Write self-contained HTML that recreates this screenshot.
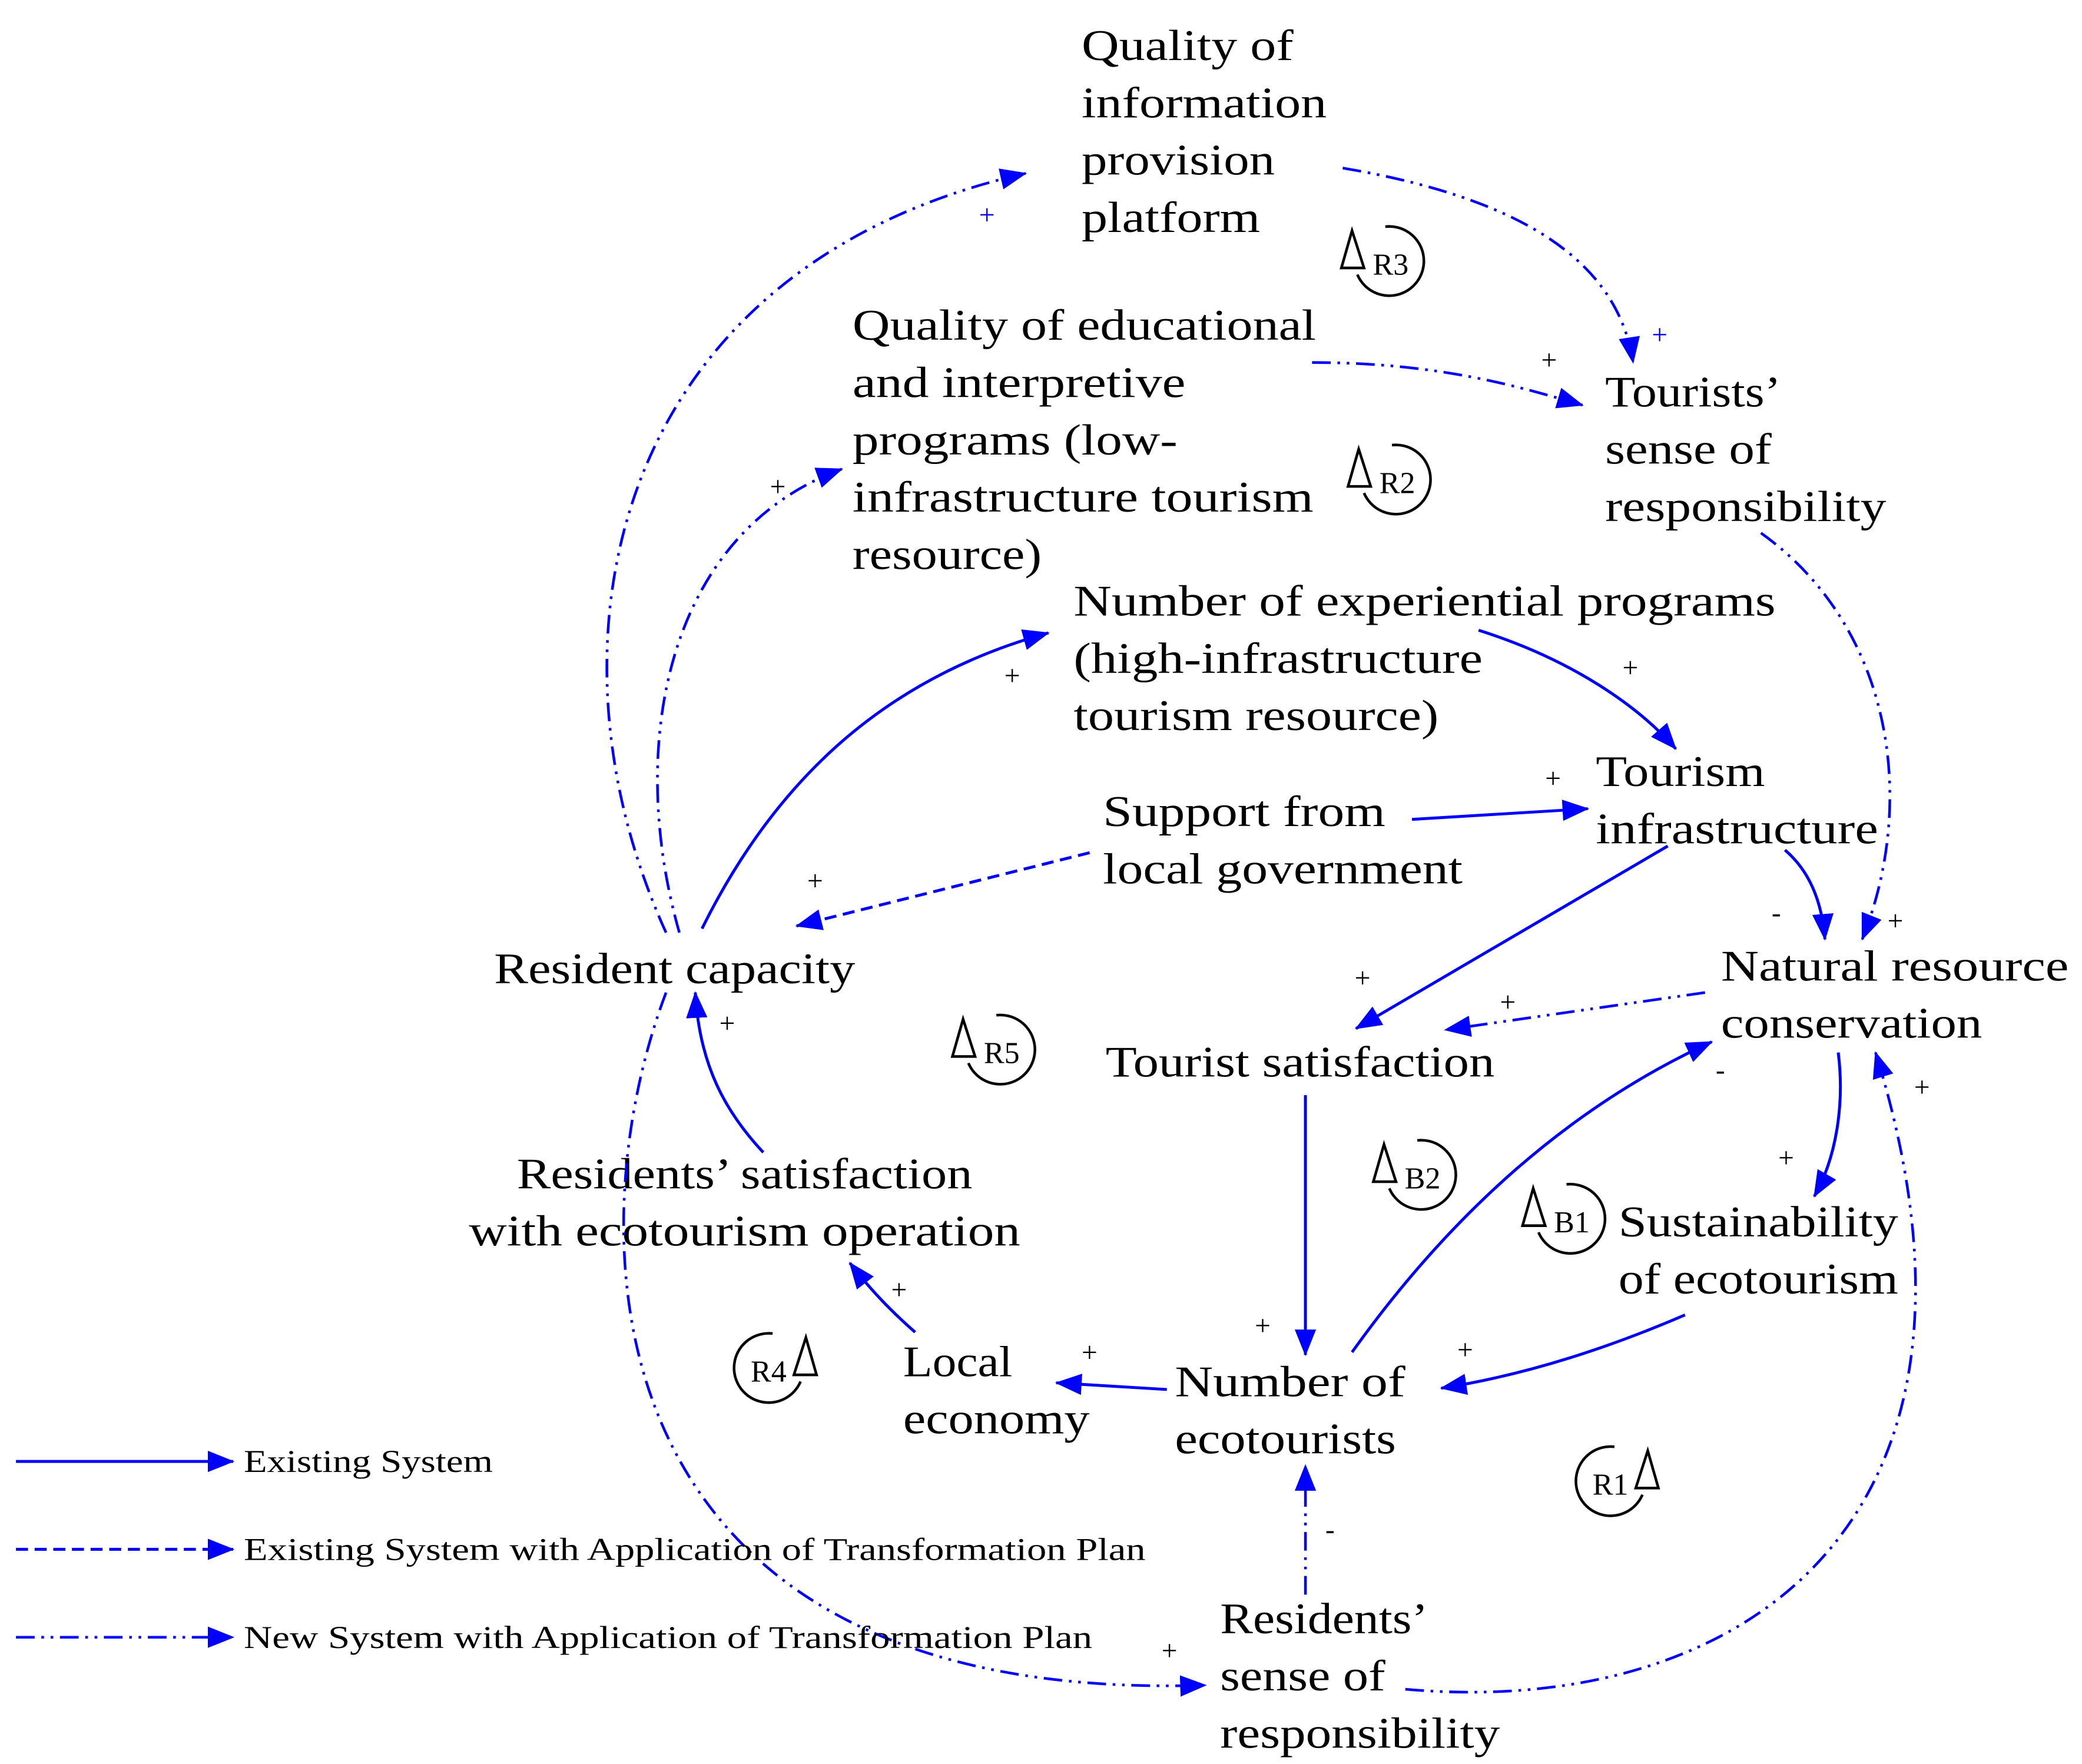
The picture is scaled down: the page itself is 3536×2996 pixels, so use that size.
<!DOCTYPE html>
<html><head><meta charset="utf-8"><style>
html,body{margin:0;padding:0;background:#fff;}
svg{display:block;}
text{font-family:"Liberation Serif",serif;}
.n{font-size:33px;fill:#000;}
.p{font-size:21px;fill:#000;}
.pb{font-size:21px;fill:#00f;}
.lt{font-size:23px;fill:#000;}
.lg{font-size:24px;fill:#000;}
.s{fill:none;stroke:#00f;stroke-width:2.2;}
.d{fill:none;stroke:#00f;stroke-width:2.2;stroke-dasharray:9 5;}
.dd{fill:none;stroke:#00f;stroke-width:2;stroke-dasharray:14 5 2 5 2 5;}
.lp{fill:none;stroke:#000;stroke-width:2;}
</style></head><body>
<svg width="3536" height="2996" viewBox="0 0 1563 1324" xmlns="http://www.w3.org/2000/svg">
<defs>
<marker id="ah" viewBox="0 0 20 16" refX="19" refY="8" markerWidth="20" markerHeight="16" orient="auto" markerUnits="userSpaceOnUse"><path d="M0,0 L20,8 L0,16 z" fill="#00f"/></marker>
<g id="loop"><path class="lp" d="M-2,-26 A26,26 0 1 1 -23,10"/><path class="lp" d="M-27,-23 L-35,5 L-18,5 z"/></g>
</defs>

<!-- nodes -->
<text class="n" x="812" y="45" textLength="159" lengthAdjust="spacingAndGlyphs">Quality of</text>
<text class="n" x="812" y="88" textLength="184" lengthAdjust="spacingAndGlyphs">information</text>
<text class="n" x="812" y="131" textLength="145" lengthAdjust="spacingAndGlyphs">provision</text>
<text class="n" x="812" y="174" textLength="134" lengthAdjust="spacingAndGlyphs">platform</text>

<text class="n" x="640" y="255" textLength="348" lengthAdjust="spacingAndGlyphs">Quality of educational</text>
<text class="n" x="640" y="298" textLength="250" lengthAdjust="spacingAndGlyphs">and interpretive</text>
<text class="n" x="640" y="341" textLength="244" lengthAdjust="spacingAndGlyphs">programs (low-</text>
<text class="n" x="640" y="384" textLength="346" lengthAdjust="spacingAndGlyphs">infrastructure tourism</text>
<text class="n" x="640" y="427" textLength="142" lengthAdjust="spacingAndGlyphs">resource)</text>

<text class="n" x="1205" y="305" textLength="132" lengthAdjust="spacingAndGlyphs">Tourists’</text>
<text class="n" x="1205" y="348" textLength="125" lengthAdjust="spacingAndGlyphs">sense of</text>
<text class="n" x="1205" y="391" textLength="211" lengthAdjust="spacingAndGlyphs">responsibility</text>

<text class="n" x="806" y="462" textLength="527" lengthAdjust="spacingAndGlyphs">Number of experiential programs</text>
<text class="n" x="806" y="505" textLength="307" lengthAdjust="spacingAndGlyphs">(high-infrastructure</text>
<text class="n" x="806" y="548" textLength="274" lengthAdjust="spacingAndGlyphs">tourism resource)</text>

<text class="n" x="1198" y="590" textLength="127" lengthAdjust="spacingAndGlyphs">Tourism</text>
<text class="n" x="1198" y="633" textLength="212" lengthAdjust="spacingAndGlyphs">infrastructure</text>

<text class="n" x="828" y="620" textLength="212" lengthAdjust="spacingAndGlyphs">Support from</text>
<text class="n" x="828" y="663" textLength="270" lengthAdjust="spacingAndGlyphs">local government</text>

<text class="n" x="371" y="738" textLength="271" lengthAdjust="spacingAndGlyphs">Resident capacity</text>

<text class="n" x="1292" y="736" textLength="261" lengthAdjust="spacingAndGlyphs">Natural resource</text>
<text class="n" x="1292" y="779" textLength="196" lengthAdjust="spacingAndGlyphs">conservation</text>

<text class="n" x="830" y="808" textLength="292" lengthAdjust="spacingAndGlyphs">Tourist satisfaction</text>

<text class="n" x="388" y="892" textLength="342" lengthAdjust="spacingAndGlyphs">Residents’ satisfaction</text>
<text class="n" x="352" y="935" textLength="414" lengthAdjust="spacingAndGlyphs">with ecotourism operation</text>

<text class="n" x="1215" y="928" textLength="210" lengthAdjust="spacingAndGlyphs">Sustainability</text>
<text class="n" x="1215" y="971" textLength="210" lengthAdjust="spacingAndGlyphs">of ecotourism</text>

<text class="n" x="678" y="1033" textLength="82" lengthAdjust="spacingAndGlyphs">Local</text>
<text class="n" x="678" y="1076" textLength="140" lengthAdjust="spacingAndGlyphs">economy</text>

<text class="n" x="882" y="1048" textLength="173" lengthAdjust="spacingAndGlyphs">Number of</text>
<text class="n" x="882" y="1091" textLength="166" lengthAdjust="spacingAndGlyphs">ecotourists</text>

<text class="n" x="916" y="1226" textLength="156" lengthAdjust="spacingAndGlyphs">Residents’</text>
<text class="n" x="916" y="1269" textLength="124" lengthAdjust="spacingAndGlyphs">sense of</text>
<text class="n" x="916" y="1312" textLength="210" lengthAdjust="spacingAndGlyphs">responsibility</text>

<!-- edges -->
<path class="dd" marker-end="url(#ah)" d="M500,700 C400,480 460,200 770,130"/>
<text class="pb" x="735" y="168">+</text>
<path class="dd" marker-end="url(#ah)" d="M510,700 C470,560 500,400 632,352"/>
<text class="p" x="578" y="372">+</text>
<path class="dd" marker-end="url(#ah)" d="M1008,126 C1150,150 1215,200 1226,272"/>
<text class="pb" x="1240" y="258">+</text>
<path class="dd" marker-end="url(#ah)" d="M985,272 C1080,272 1140,290 1188,304"/>
<text class="p" x="1157" y="277">+</text>
<path class="dd" marker-end="url(#ah)" d="M1322,400 C1420,470 1440,600 1398,705"/>
<text class="p" x="1417" y="698">+</text>
<path class="s" marker-end="url(#ah)" d="M527,697 C580,590 660,510 787,475"/>
<text class="p" x="754" y="514">+</text>
<path class="s" marker-end="url(#ah)" d="M1110,473 C1180,495 1230,530 1258,562"/>
<text class="p" x="1218" y="508">+</text>
<path class="s" marker-end="url(#ah)" d="M1060,615 L1192,607"/>
<text class="p" x="1160" y="591">+</text>
<path class="d" marker-end="url(#ah)" d="M818,640 L598,695"/>
<text class="p" x="606" y="668">+</text>
<path class="s" marker-end="url(#ah)" d="M1252,635 L1018,772"/>
<text class="p" x="1017" y="741">+</text>
<path class="s" marker-end="url(#ah)" d="M1340,638 C1360,655 1368,680 1370,705"/>
<text class="p" x="1330" y="692">-</text>
<path class="dd" marker-end="url(#ah)" d="M1280,745 L1085,773"/>
<text class="p" x="1126" y="759">+</text>
<path class="s" marker-end="url(#ah)" d="M980,822 L980,1017"/>
<text class="p" x="942" y="1002">+</text>
<path class="s" marker-end="url(#ah)" d="M1015,1015 C1090,910 1180,830 1285,782"/>
<text class="p" x="1288" y="810">-</text>
<path class="s" marker-end="url(#ah)" d="M1380,790 C1385,830 1378,870 1362,898"/>
<text class="p" x="1335" y="876">+</text>
<path class="s" marker-end="url(#ah)" d="M1265,987 C1200,1015 1140,1033 1082,1042"/>
<text class="p" x="1094" y="1020">+</text>
<path class="s" marker-end="url(#ah)" d="M876,1043 L793,1038"/>
<text class="p" x="812" y="1022">+</text>
<path class="s" marker-end="url(#ah)" d="M687,1000 C670,985 655,970 638,948"/>
<text class="p" x="669" y="975">+</text>
<path class="s" marker-end="url(#ah)" d="M573,865 C545,835 525,800 522,745"/>
<text class="p" x="540" y="775">+</text>
<path class="dd" marker-end="url(#ah)" d="M980,1197 L980,1100"/>
<text class="p" x="995" y="1155">-</text>
<path class="dd" marker-end="url(#ah)" d="M500,745 C430,930 440,1280 905,1265"/>
<text class="p" x="872" y="1246">+</text>
<path class="dd" marker-end="url(#ah)" d="M1055,1268 C1300,1290 1520,1150 1408,790"/>
<text class="p" x="1437" y="823">+</text>

<!-- loop markers -->
<use href="#loop" transform="translate(1042,196)"/><text class="lt" x="1044" y="206" text-anchor="middle">R3</text>
<use href="#loop" transform="translate(1047,360)"/><text class="lt" x="1049" y="370" text-anchor="middle">R2</text>
<use href="#loop" transform="translate(750,788)"/><text class="lt" x="752" y="798" text-anchor="middle">R5</text>
<use href="#loop" transform="translate(1066,882)"/><text class="lt" x="1068" y="892" text-anchor="middle">B2</text>
<use href="#loop" transform="translate(1178,915)"/><text class="lt" x="1180" y="925" text-anchor="middle">B1</text>
<use href="#loop" transform="translate(578,1027) scale(-1,1)"/><text class="lt" x="577" y="1037" text-anchor="middle">R4</text>
<use href="#loop" transform="translate(1210,1112) scale(-1,1)"/><text class="lt" x="1209" y="1122" text-anchor="middle">R1</text>

<!-- legend -->
<path class="s" marker-end="url(#ah)" d="M12,1097 L175,1097"/>
<text class="lg" x="183" y="1105" textLength="187" lengthAdjust="spacingAndGlyphs">Existing System</text>
<path class="d" marker-end="url(#ah)" d="M12,1163 L175,1163"/>
<text class="lg" x="183" y="1171" textLength="677" lengthAdjust="spacingAndGlyphs">Existing System with Application of Transformation Plan</text>
<path class="dd" marker-end="url(#ah)" d="M12,1229 L175,1229"/>
<text class="lg" x="183" y="1237" textLength="637" lengthAdjust="spacingAndGlyphs">New System with Application of Transformation Plan</text>
</svg>
</body></html>
